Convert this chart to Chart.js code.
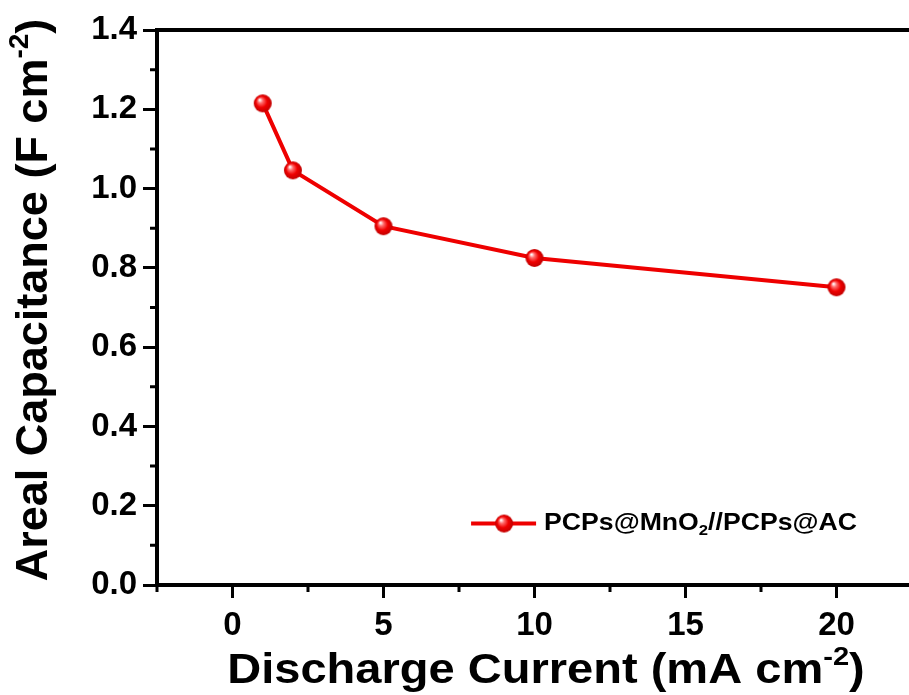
<!DOCTYPE html>
<html lang="en">
<head>
  <meta charset="UTF-8" />
  <title>Areal Capacitance vs Discharge Current</title>
  <script src="https://cdn.jsdelivr.net/npm/chart.js"></script>
  <style>
    html, body { margin: 0; padding: 0; background: #fff; overflow: hidden; }
    .chart-wrapper { width: 925px; height: 695px; }
  </style>
</head>
<body>
  <div class="chart-wrapper">
    <canvas id="myChart" width="925" height="695"></canvas>
  </div>

  <script>
    // data
    const currents = [1, 2, 5, 10, 20];                 // mA cm-2
    const capacitance = [1.215, 1.046, 0.905, 0.825, 0.751]; // F cm-2
    const xTicks = [0, 5, 10, 15, 20];
    const xMinor = [-2.5, 2.5, 7.5, 12.5, 17.5, 22.5];
    const yTicks = [0, 0.2, 0.4, 0.6, 0.8, 1.0, 1.2, 1.4];
    const yMinor = [0.1, 0.3, 0.5, 0.7, 0.9, 1.1, 1.3];
    const seriesName = ["PCPs@MnO", "2", "//PCPs@AC"];

    const RED = "#ee0000";
    const FONT = "'Liberation Sans', Arial, sans-serif";

    // shiny red ball used as marker
    function makeBall(r) {
      const c = document.createElement("canvas");
      c.width = c.height = r * 2 + 2;
      const g = c.getContext("2d");
      const cx = r + 1, cy = r + 1;
      const grad = g.createRadialGradient(cx - r * 0.35, cy - r * 0.4, r * 0.05, cx, cy, r);
      grad.addColorStop(0, "#ffffff");
      grad.addColorStop(0.25, "#ff6a6a");
      grad.addColorStop(0.6, "#f00000");
      grad.addColorStop(1, "#c00000");
      g.fillStyle = grad;
      g.beginPath();
      g.arc(cx, cy, r, 0, Math.PI * 2);
      g.fill();
      return c;
    }
    const ball = makeBall(9);

    // frame, minor ticks, titles and legend
    const extras = {
      id: "extras",
      afterDraw(chart) {
        const ctx = chart.ctx;
        const a = chart.chartArea;
        const xs = chart.scales.x, ys = chart.scales.y;
        ctx.save();
        ctx.strokeStyle = "#000";
        ctx.lineWidth = 4;
        ctx.beginPath();
        ctx.moveTo(a.left - 2, a.top);
        ctx.lineTo(a.right, a.top);
        ctx.lineTo(a.right, a.bottom);
        ctx.stroke();

        ctx.lineWidth = 3;
        ctx.beginPath();
        yMinor.forEach(v => {
          const y = ys.getPixelForValue(v);
          ctx.moveTo(a.left, y);
          ctx.lineTo(a.left - 7, y);
        });
        xMinor.forEach(v => {
          const x = xs.getPixelForValue(v);
          ctx.moveTo(x, a.bottom);
          ctx.lineTo(x, a.bottom + 7);
        });
        ctx.stroke();

        // axis titles
        ctx.fillStyle = "#000";
        ctx.textBaseline = "alphabetic";
        ctx.save();
        ctx.translate(546, 683);
        ctx.scale(1.12, 1);
        drawSup(ctx, ["Discharge Current (mA cm", "-2", ")"], 0, 0, 42, "sup", "center");
        ctx.restore();
        ctx.save();
        ctx.translate(47, 300);
        ctx.rotate(-Math.PI / 2);
        drawSup(ctx, ["Areal Capacitance (F cm", "-2", ")"], 0, 0, 45, "sup", "center");
        ctx.restore();

        // legend
        const ly = ys.getPixelForValue(0.155);
        const lx = xs.getPixelForValue(7.9);
        ctx.strokeStyle = RED;
        ctx.lineWidth = 4;
        ctx.beginPath();
        ctx.moveTo(lx, ly);
        ctx.lineTo(lx + 65, ly);
        ctx.stroke();
        ctx.drawImage(ball, lx + 33 - ball.width / 2, ly - ball.height / 2);
        ctx.textBaseline = "middle";
        ctx.save();
        ctx.translate(lx + 73, ly);
        ctx.scale(1.11, 1);
        drawSup(ctx, seriesName, 0, 0, 24, "sub", "left");
        ctx.restore();
        ctx.restore();
      }
    };

    // text with one raised or lowered piece in the middle
    function drawSup(ctx, parts, x, y, size, kind, align) {
      const big = "bold " + size + "px " + FONT;
      const small = "bold " + Math.round(size * 0.62) + "px " + FONT;
      ctx.font = big;
      const w0 = ctx.measureText(parts[0]).width;
      const w2 = ctx.measureText(parts[2]).width;
      ctx.font = small;
      const w1 = ctx.measureText(parts[1]).width;
      let sx = align === "center" ? x - (w0 + w1 + w2) / 2 : x;
      ctx.textAlign = "left";
      ctx.font = big;
      ctx.fillText(parts[0], sx, y);
      ctx.font = small;
      const dy = kind === "sup" ? -size * 0.42 : size * 0.3;
      ctx.fillText(parts[1], sx + w0, y + dy);
      ctx.font = big;
      ctx.fillText(parts[2], sx + w0 + w1, y);
    }

    const ctx = document.getElementById("myChart").getContext("2d");
    const myChart = new Chart(ctx, {
      type: "scatter",
      data: {
        datasets: [
          {
            label: seriesName.join(""),
            data: currents.map((c, i) => ({ x: c, y: capacitance[i] })),
            showLine: true,
            borderColor: RED,
            borderWidth: 4,
            pointStyle: ball,
            pointRadius: 9,
            pointHoverRadius: 9
          }
        ]
      },
      options: {
        responsive: false,
        animation: false,
        events: [],
        layout: { padding: { top: 30, right: 4, left: 0, bottom: 0 } },
        plugins: { legend: { display: false }, tooltip: { enabled: false } },
        scales: {
          x: {
            type: "linear",
            min: -2.5,
            max: 22.5,
            afterBuildTicks: (s) => { s.ticks = xTicks.map(v => ({ value: v })); },
            afterFit: (s) => { s.height = 110; },
            border: { display: true, color: "#000", width: 4 },
            grid: { drawOnChartArea: false, color: "#000", tickLength: 13, tickWidth: 3 },
            ticks: {
              color: "#000",
              padding: 8,
              font: { family: FONT, size: 33, weight: "bold" },
              callback: (v) => String(v)
            }
          },
          y: {
            min: 0,
            max: 1.4,
            afterBuildTicks: (s) => { s.ticks = yTicks.map(v => ({ value: v })); },
            afterFit: (s) => { s.width = 157; },
            border: { display: true, color: "#000", width: 4 },
            grid: { drawOnChartArea: false, color: "#000", tickLength: 14, tickWidth: 3 },
            ticks: {
              color: "#000",
              padding: 6,
              font: { family: FONT, size: 33, weight: "bold" },
              callback: (v) => v.toFixed(1)
            }
          }
        }
      },
      plugins: [extras]
    });
  </script>
</body>
</html>
